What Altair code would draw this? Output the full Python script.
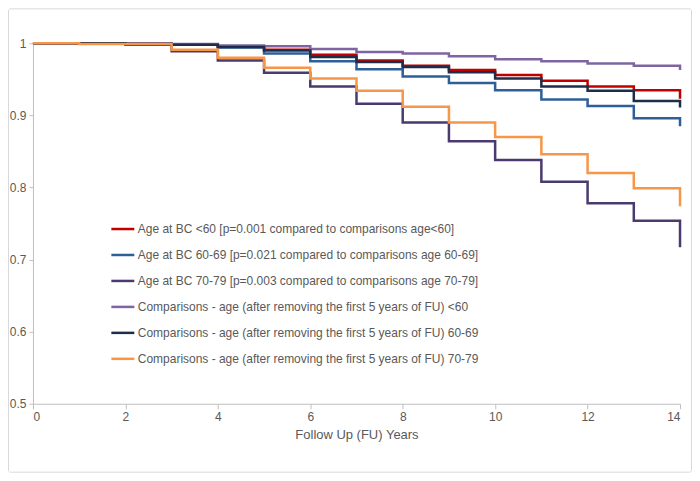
import altair as alt
import pandas as pd

years = list(range(0, 15))

series_names = [
    "Age at BC <60 [p=0.001 compared to comparisons age<60]",
    "Age at BC 60-69 [p=0.021 compared to comparisons age 60-69]",
    "Age at BC 70-79 [p=0.003 compared to comparisons age 70-79]",
    "Comparisons - age (after removing the first 5 years of FU) <60",
    "Comparisons - age (after removing the first 5 years of FU) 60-69",
    "Comparisons - age (after removing the first 5 years of FU) 70-79",
]
series_colors = ["#C00000", "#2F5F98", "#4B3A6E", "#8064A2", "#1F2D4A", "#F79646"]

age_lt60 = [1, 1, 0.999, 0.998, 0.996, 0.991, 0.984, 0.976, 0.969, 0.963, 0.956, 0.948, 0.940, 0.935, 0.923]
age_60_69 = [1, 1, 0.999, 0.998, 0.994, 0.986, 0.975, 0.964, 0.954, 0.945, 0.935, 0.922, 0.913, 0.896, 0.885]
age_70_79 = [1, 1, 0.998, 0.989, 0.976, 0.959, 0.940, 0.916, 0.890, 0.864, 0.838, 0.808, 0.778, 0.754, 0.717]
comp_lt60 = [1, 1, 1, 0.999, 0.997, 0.996, 0.992, 0.988, 0.986, 0.982, 0.978, 0.975, 0.972, 0.969, 0.963]
comp_60_69 = [1, 1, 0.999, 0.998, 0.995, 0.990, 0.981, 0.974, 0.967, 0.960, 0.951, 0.940, 0.934, 0.920, 0.911]
comp_70_79 = [1, 0.999, 0.999, 0.991, 0.980, 0.966, 0.951, 0.934, 0.912, 0.890, 0.870, 0.846, 0.820, 0.799, 0.774]

all_values = [age_lt60, age_60_69, age_70_79, comp_lt60, comp_60_69, comp_70_79]

rows = []
for idx, (name, vals) in enumerate(zip(series_names, all_values)):
    for yr, v in zip(years, vals):
        rows.append({"series": name, "year": yr, "surv": v, "ord": idx})
df = pd.DataFrame(rows)

FONT = "Liberation Sans"
GRAY_TXT = "#595959"
AXIS_GRAY = "#BFBFBF"

W, H = 648, 361

lines = alt.Chart(df).mark_line(interpolate="step-after", strokeWidth=2.5).encode(
    x=alt.X(
        "year:Q",
        scale=alt.Scale(domain=[0, 14], nice=False),
        axis=alt.Axis(
            values=[0, 2, 4, 6, 8, 10, 12, 14],
            title="Follow Up (FU) Years",
            grid=False,
            domainColor=AXIS_GRAY,
            tickColor=AXIS_GRAY,
            tickSize=5,
            labelColor=GRAY_TXT,
            labelFontSize=12,
            labelFont=FONT,
            labelPadding=3,
            titleColor=GRAY_TXT,
            titleFont=FONT,
            titleFontSize=13,
            titleFontWeight="normal",
            titlePadding=6,
        ),
    ),
    y=alt.Y(
        "surv:Q",
        scale=alt.Scale(domain=[0.5, 1], nice=False, zero=False),
        axis=alt.Axis(
            values=[0.5, 0.6, 0.7, 0.8, 0.9, 1.0],
            format=".1~f",
            title=None,
            grid=False,
            domainColor=AXIS_GRAY,
            tickColor=AXIS_GRAY,
            tickSize=4,
            labelColor=GRAY_TXT,
            labelFontSize=12,
            labelFont=FONT,
            labelPadding=3,
        ),
    ),
    color=alt.Color(
        "series:N",
        scale=alt.Scale(domain=series_names, range=series_colors),
        legend=alt.Legend(
            title=None,
            orient="none",
            legendX=77,
            legendY=173,
            symbolType="stroke",
            symbolSize=529,
            symbolStrokeWidth=2.5,
            labelFont=FONT,
            labelFontSize=12,
            labelColor=GRAY_TXT,
            labelLimit=600,
            labelOffset=2,
            rowPadding=7,
            padding=0,
        ),
    ),
    order=alt.Order("ord:Q"),
)

border = alt.Chart(pd.DataFrame({"a": [0]})).mark_rect(
    fill="transparent", stroke="#D9D9D9", strokeWidth=1, cornerRadius=2
).encode(
    x=alt.value(-24.5),
    x2=alt.value(W + 11.5),
    y=alt.value(-34.5),
    y2=alt.value(H + 68.5),
)

chart = alt.layer(border, lines).properties(
    width=W,
    height=H,
    autosize=alt.AutoSizeParams(type="none"),
    padding={"left": 25, "top": 35, "right": 12, "bottom": 72},
    background="white",
).configure_view(stroke=None)

chart.save("out.html", embed_options={"renderer": "svg", "actions": False})
